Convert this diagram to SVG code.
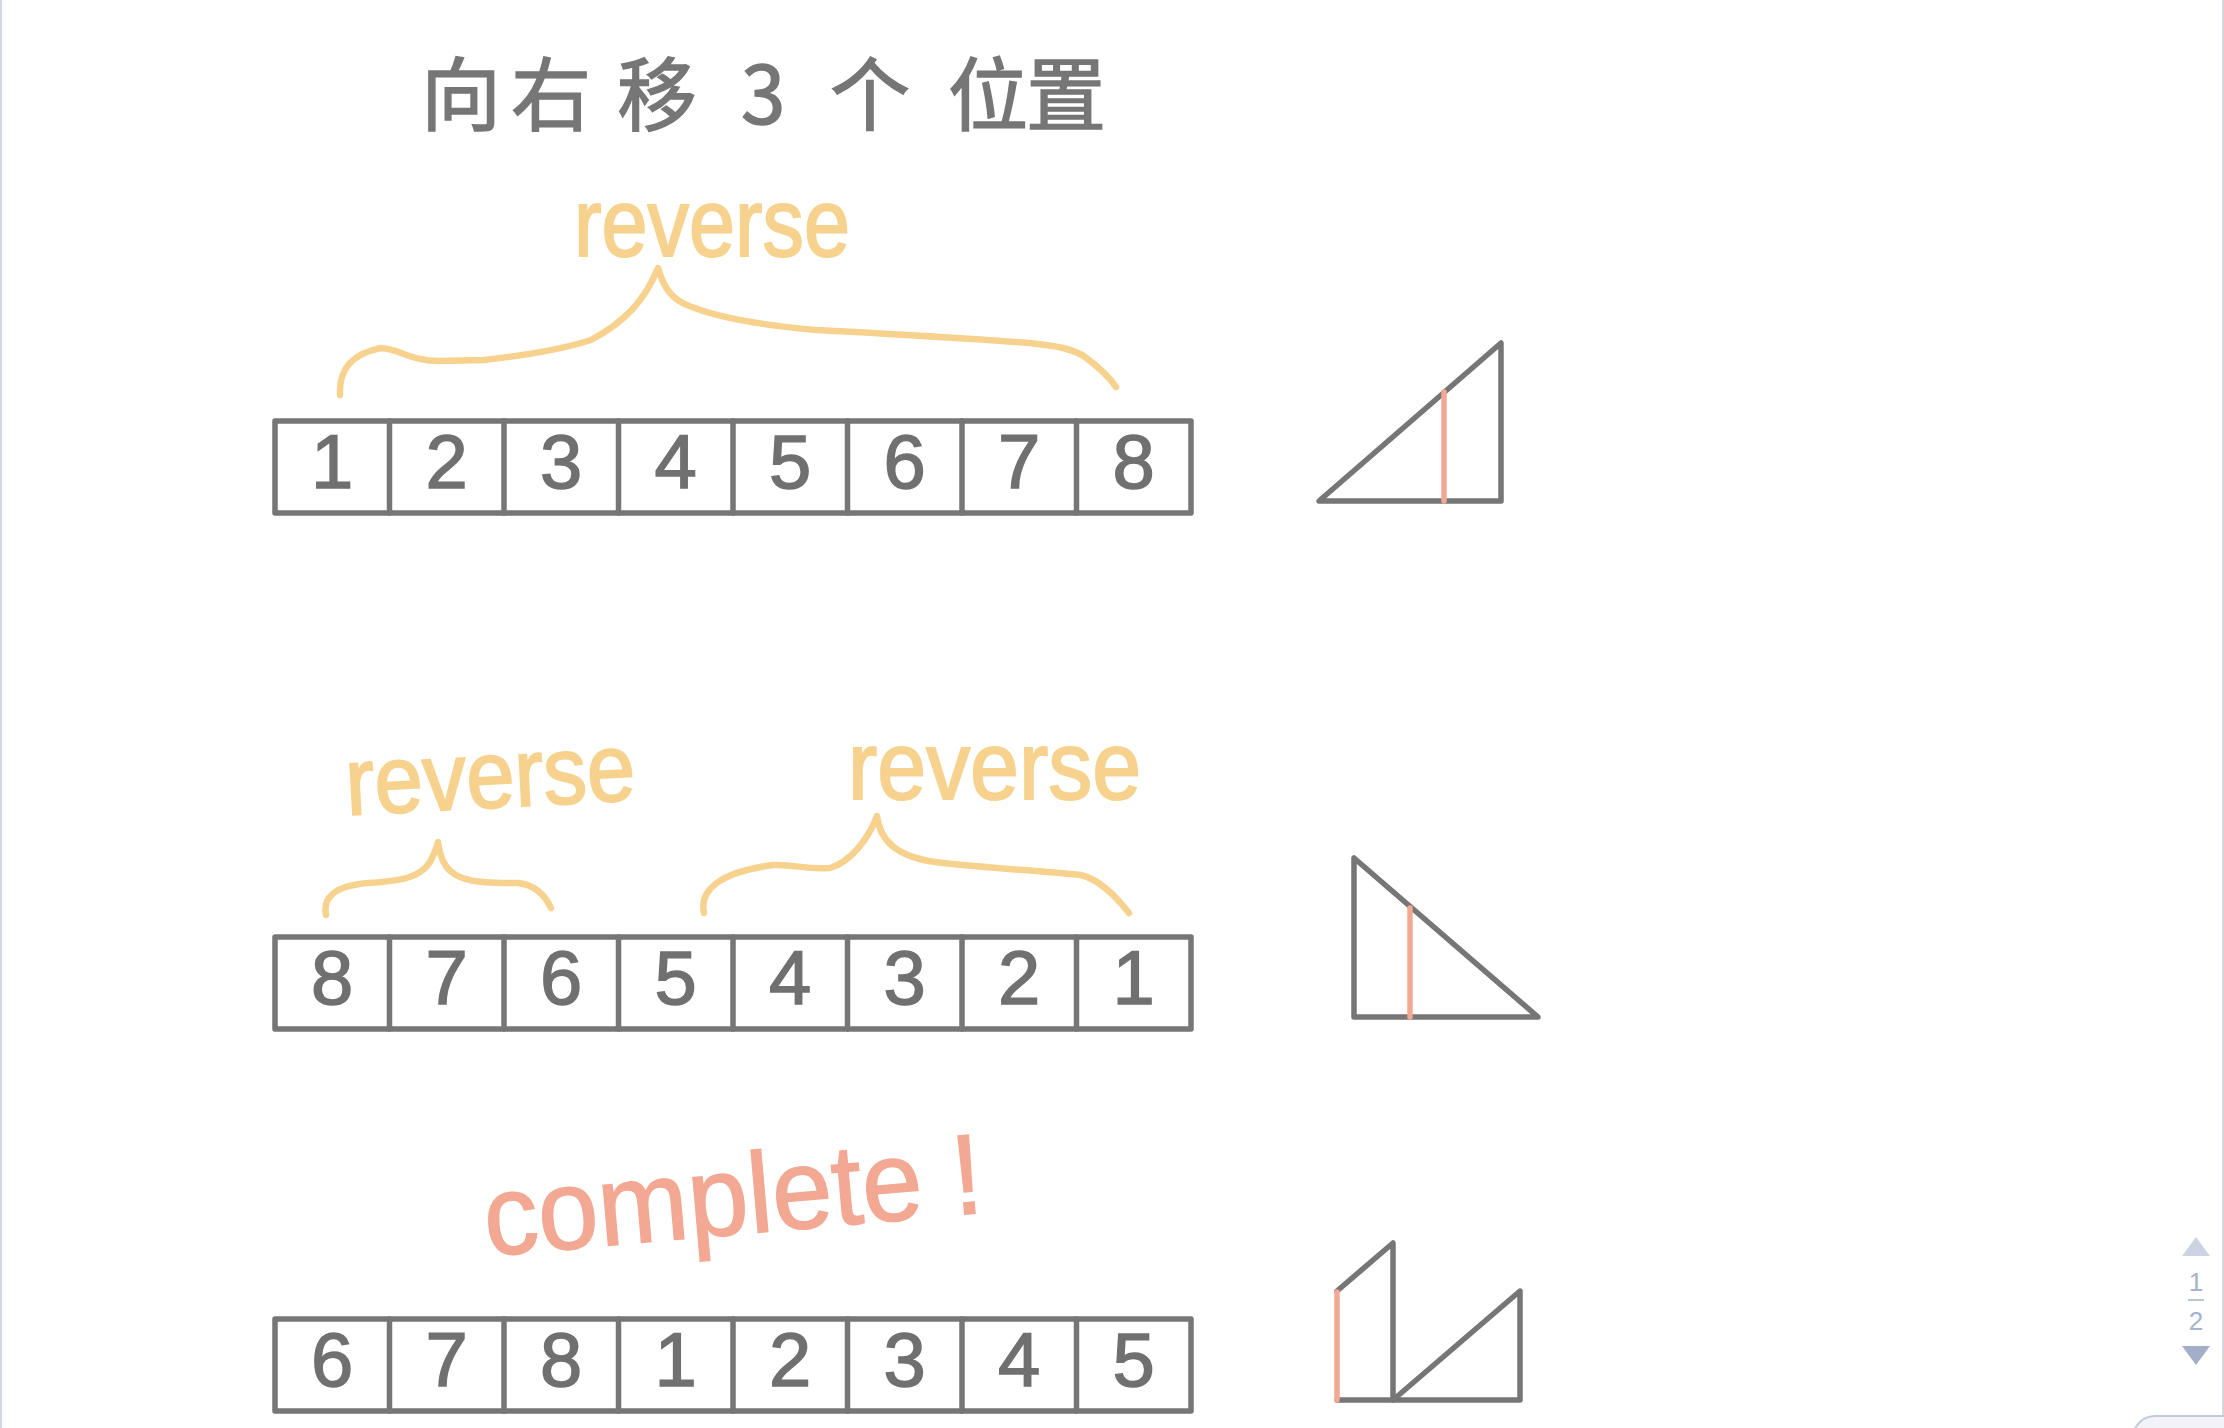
<svg xmlns="http://www.w3.org/2000/svg" width="2224" height="1428" viewBox="0 0 2224 1428">
<style>
.grid{fill:none;stroke:#767676;stroke-width:5.5;stroke-linecap:round;stroke-linejoin:round}
.tri{fill:none;stroke:#767676;stroke-width:5.5;stroke-linecap:round;stroke-linejoin:round}
.red{fill:none;stroke:#F2A892;stroke-width:5.5;stroke-linecap:round}
.brace{fill:none;stroke:#F7D28E;stroke-width:6.5;stroke-linecap:round;stroke-linejoin:round}
.dig{font-family:"Liberation Sans",Arial,sans-serif;font-size:76px;fill:#707070;stroke:#707070;stroke-width:1.5;text-anchor:middle}
.rev{font-family:"Liberation Sans",Arial,sans-serif;font-size:96px;fill:#F7D28E;stroke:#F7D28E;stroke-width:2}
.title{font-family:"Noto Sans CJK SC","Noto Sans",sans-serif;font-size:80px;fill:#767676;stroke:#767676;stroke-width:1.5}
.done{font-family:"Liberation Sans",Arial,sans-serif;font-size:114px;fill:#F2A892;stroke:#F2A892;stroke-width:1.5}
.pg{font-family:"Liberation Sans",Arial,sans-serif;font-size:26px;fill:#a7b3cc;text-anchor:middle}
</style>
<rect x="0" y="0" width="2224" height="1428" fill="#ffffff"/>
<line x1="1" y1="0" x2="1" y2="1428" stroke="#d3d9e4" stroke-width="2"/>
<line x1="2223" y1="0" x2="2223" y2="1428" stroke="#d6d6dc" stroke-width="2"/>

<g id="title">
<text class="title" x="421 511 617 700 741 800 830 948 1026" y="124">向右移 3 个位置</text>
</g>

<g id="label-reverse-top">
<text class="rev" x="574" y="256" textLength="276" lengthAdjust="spacingAndGlyphs">reverse</text>
</g>

<g id="array-1">
<rect class="grid" x="275" y="421" width="916" height="92"/>
<path class="grid" d="M389.5,421V513M504,421V513M618.5,421V513M733,421V513M847.5,421V513M962,421V513M1076.5,421V513"/>
<text class="dig" x="332.25 446.75 561.25 675.75 790.25 904.75 1019.25 1133.75" y="488">12345678</text>
</g>

<g id="triangle-1">
<polygon class="tri" points="1319,501 1501,343 1501,501"/>
<line class="red" x1="1444" y1="392" x2="1444" y2="501"/>
</g>

<g id="label-reverse-left">
<text class="rev" x="347" y="815" textLength="290" lengthAdjust="spacingAndGlyphs" transform="rotate(-3 347 815)">reverse</text>
</g>
<g id="label-reverse-right">
<text class="rev" x="848" y="799" textLength="293" lengthAdjust="spacingAndGlyphs">reverse</text>
</g>

<g id="array-2">
<rect class="grid" x="275" y="937" width="916" height="92"/>
<path class="grid" d="M389.5,937V1029M504,937V1029M618.5,937V1029M733,937V1029M847.5,937V1029M962,937V1029M1076.5,937V1029"/>
<text class="dig" x="332.25 446.75 561.25 675.75 790.25 904.75 1019.25 1133.75" y="1004">87654321</text>
</g>

<g id="triangle-2">
<polygon class="tri" points="1354,858 1354,1017 1538,1017"/>
<line class="red" x1="1410" y1="908" x2="1410" y2="1017"/>
</g>

<g id="label-complete">
<text class="done" x="487" y="1256" textLength="500" lengthAdjust="spacingAndGlyphs" transform="rotate(-5 487 1256)">complete !</text>
</g>

<g id="array-3">
<rect class="grid" x="275" y="1319" width="916" height="92"/>
<path class="grid" d="M389.5,1319V1411M504,1319V1411M618.5,1319V1411M733,1319V1411M847.5,1319V1411M962,1319V1411M1076.5,1319V1411"/>
<text class="dig" x="332.25 446.75 561.25 675.75 790.25 904.75 1019.25 1133.75" y="1386">67812345</text>
</g>

<g id="triangle-3">
<polyline class="tri" points="1337,1291 1393,1243 1393,1400"/>
<polyline class="tri" points="1337,1400 1520,1400 1520,1291 1393,1400"/>
<line class="red" x1="1337" y1="1292" x2="1337" y2="1400"/>
</g>

<g id="connectors">
<path class="brace" d="M340,395 C339,375 346,355 381,348 C400,349 410,361 440,361 L484,360 C520,356 560,350 591,340 C625,322 645,300 658,268 C663,285 670,300 692,307 C720,318 760,325 816,330 C870,333 930,336 1029,343 C1060,346 1075,350 1085,357 C1100,368 1110,378 1116,387"/>
<path class="brace" d="M326,915 C323,899 332,886 368,883 C400,881 420,878 430,862 C435,852 437,848 438,842 C440,855 443,870 460,877 C475,883 492,883 518,883 C535,885 545,895 551,908"/>
<path class="brace" d="M704,913 C699,890 720,872 773,865 C795,864 805,870 830,868 C850,862 868,840 877,816 C880,840 895,858 943,863 C990,868 1040,871 1081,875 C1100,880 1115,895 1129,913"/>
</g>

<g id="pager">
<polygon points="2182,1256 2196,1237 2210,1256" fill="#ccd4e3"/>
<text class="pg" x="2196" y="1291">1</text>
<line x1="2188" y1="1300" x2="2204" y2="1300" stroke="#a7b3cc" stroke-width="1.5"/>
<text class="pg" x="2196" y="1330">2</text>
<polygon points="2182,1346 2210,1346 2196,1365" fill="#a3afc9"/>
<rect x="2133" y="1416" width="130" height="60" rx="22" fill="#f1f3f8" stroke="#c3cad8" stroke-width="2"/>
</g>
</svg>
